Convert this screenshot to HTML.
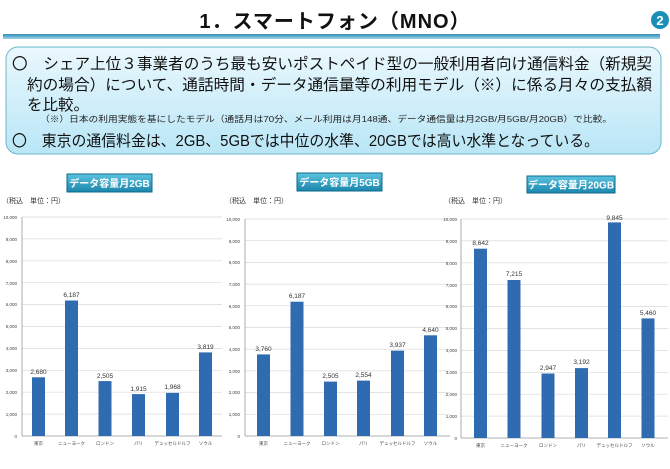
<!DOCTYPE html>
<html><head><meta charset="utf-8"><style>
body{margin:0;width:670px;height:464px;background:#fff;overflow:hidden;font-family:"Liberation Sans","Noto Sans CJK JP",sans-serif}
</style></head><body>
<svg width="670" height="464" viewBox="0 0 670 464" xmlns="http://www.w3.org/2000/svg" font-family="Liberation Sans, Noto Sans CJK JP, sans-serif">
<defs>
<linearGradient id="bx" x1="0" y1="0" x2="0" y2="1"><stop offset="0" stop-color="#eaf8fd"/><stop offset="1" stop-color="#b9e6f6"/></linearGradient>
<linearGradient id="tb" x1="0" y1="0" x2="0" y2="1"><stop offset="0" stop-color="#5cc4e0"/><stop offset="1" stop-color="#1b86ad"/></linearGradient>
<linearGradient id="ln" x1="0" y1="0" x2="0" y2="1"><stop offset="0" stop-color="#2f8fb8"/><stop offset="1" stop-color="#9fd3e6"/></linearGradient>
</defs>
<text x="335" y="28" text-anchor="middle" font-size="20" font-weight="bold" fill="#111" letter-spacing="1">1．スマートフォン（MNO）</text>
<circle cx="660" cy="20" r="9" fill="#1a8fb5"/>
<text x="660" y="25" text-anchor="middle" font-size="13" font-weight="bold" fill="#fff">2</text>
<rect x="3" y="34" width="657" height="5" fill="url(#ln)"/>
<rect x="6" y="47" width="655" height="107" rx="12" fill="url(#bx)" stroke="#6cb5cc" stroke-width="1"/>
<g font-size="15.5" fill="#111">
<text x="12" y="69" textLength="640" lengthAdjust="spacingAndGlyphs">〇　シェア上位３事業者のうち最も安いポストペイド型の一般利用者向け通信料金（新規契</text>
<text x="27" y="90" textLength="625" lengthAdjust="spacingAndGlyphs">約の場合）について、通話時間・データ通信量等の利用モデル（※）に係る月々の支払額</text>
<text x="27" y="110">を比較。</text>
<text x="12" y="146" textLength="587" lengthAdjust="spacingAndGlyphs">〇　東京の通信料金は、2GB、5GBでは中位の水準、20GBでは高い水準となっている。</text>
</g>
<text x="40" y="122" font-size="8.5" fill="#222" textLength="572" lengthAdjust="spacingAndGlyphs">（※）日本の利用実態を基にしたモデル（通話月は70分、メール利用は月148通、データ通信量は月2GB/月5GB/月20GB）で比較。</text>

<!-- chart 1 -->
<g>
<rect x="67" y="174" width="85" height="18" fill="url(#tb)" stroke="#0d6a8a"/>
<text x="109.5" y="187" text-anchor="middle" font-size="10" font-weight="bold" fill="#fff">データ容量月2GB</text>
<text x="2" y="203" font-size="7" fill="#333">（税込　単位：円）</text>
<g stroke="#d9d9d9" stroke-width="0.7">
<line x1="22" x2="222" y1="217" y2="217"/><line x1="22" x2="222" y1="238.9" y2="238.9"/><line x1="22" x2="222" y1="260.8" y2="260.8"/><line x1="22" x2="222" y1="282.7" y2="282.7"/><line x1="22" x2="222" y1="304.6" y2="304.6"/><line x1="22" x2="222" y1="326.5" y2="326.5"/><line x1="22" x2="222" y1="348.4" y2="348.4"/><line x1="22" x2="222" y1="370.3" y2="370.3"/><line x1="22" x2="222" y1="392.2" y2="392.2"/><line x1="22" x2="222" y1="414.1" y2="414.1"/>
</g>
<line x1="22" x2="222" y1="436" y2="436" stroke="#999" stroke-width="0.8"/>
<line x1="22" x2="22" y1="217" y2="436" stroke="#999" stroke-width="0.8"/>
<g font-size="4.5" fill="#444" text-anchor="end">
<text x="17" y="219">10,000</text><text x="17" y="241">9,000</text><text x="17" y="263">8,000</text><text x="17" y="285">7,000</text><text x="17" y="306">6,000</text><text x="17" y="328">5,000</text><text x="17" y="350">4,000</text><text x="17" y="372">3,000</text><text x="17" y="394">2,000</text><text x="17" y="416">1,000</text><text x="17" y="438">0</text>
</g>
<g fill="#2e6bb0">
<rect x="32" y="377.3" width="13" height="58.7"/><rect x="65" y="300.5" width="13" height="135.5"/><rect x="98.5" y="381.1" width="13" height="54.9"/><rect x="132" y="394.1" width="13" height="41.9"/><rect x="166" y="392.9" width="13" height="43.1"/><rect x="199" y="352.4" width="13" height="83.6"/>
</g>
<g font-size="6.5" fill="#333" text-anchor="middle">
<text x="38.5" y="374">2,680</text><text x="71.5" y="297">6,187</text><text x="105" y="378">2,505</text><text x="138.5" y="391">1,915</text><text x="172.5" y="389">1,968</text><text x="205.5" y="349">3,819</text>
</g>
<g font-size="4.5" fill="#444" text-anchor="middle">
<text x="38.5" y="445">東京</text><text x="71.5" y="445">ニューヨーク</text><text x="105" y="445">ロンドン</text><text x="138.5" y="445">パリ</text><text x="172.5" y="445">デュッセルドルフ</text><text x="205.5" y="445">ソウル</text>
</g>
</g>

<!-- chart 2 -->
<g>
<rect x="297" y="173" width="85" height="18" fill="url(#tb)" stroke="#0d6a8a"/>
<text x="339.5" y="186" text-anchor="middle" font-size="10" font-weight="bold" fill="#fff">データ容量月5GB</text>
<text x="225" y="203" font-size="7" fill="#333">（税込　単位：円）</text>
<g stroke="#d9d9d9" stroke-width="0.7">
<line x1="245" x2="450" y1="219" y2="219"/><line x1="245" x2="450" y1="240.7" y2="240.7"/><line x1="245" x2="450" y1="262.4" y2="262.4"/><line x1="245" x2="450" y1="284.1" y2="284.1"/><line x1="245" x2="450" y1="305.8" y2="305.8"/><line x1="245" x2="450" y1="327.5" y2="327.5"/><line x1="245" x2="450" y1="349.2" y2="349.2"/><line x1="245" x2="450" y1="370.9" y2="370.9"/><line x1="245" x2="450" y1="392.6" y2="392.6"/><line x1="245" x2="450" y1="414.3" y2="414.3"/>
</g>
<line x1="245" x2="450" y1="436" y2="436" stroke="#999" stroke-width="0.8"/>
<line x1="245" x2="245" y1="219" y2="436" stroke="#999" stroke-width="0.8"/>
<g font-size="4.5" fill="#444" text-anchor="end">
<text x="240" y="221">10,000</text><text x="240" y="243">9,000</text><text x="240" y="264">8,000</text><text x="240" y="286">7,000</text><text x="240" y="308">6,000</text><text x="240" y="329">5,000</text><text x="240" y="351">4,000</text><text x="240" y="373">3,000</text><text x="240" y="394">2,000</text><text x="240" y="416">1,000</text><text x="240" y="438">0</text>
</g>
<g fill="#2e6bb0">
<rect x="257" y="354.4" width="13" height="81.6"/><rect x="290.5" y="301.7" width="13" height="134.3"/><rect x="324" y="381.6" width="13" height="54.4"/><rect x="357" y="380.6" width="13" height="55.4"/><rect x="391" y="350.6" width="13" height="85.4"/><rect x="424" y="335.3" width="13" height="100.7"/>
</g>
<g font-size="6.5" fill="#333" text-anchor="middle">
<text x="263.5" y="351">3,760</text><text x="297" y="298">6,187</text><text x="330.5" y="378">2,505</text><text x="363.5" y="377">2,554</text><text x="397.5" y="347">3,937</text><text x="430.5" y="332">4,640</text>
</g>
<g font-size="4.5" fill="#444" text-anchor="middle">
<text x="263.5" y="445">東京</text><text x="297" y="445">ニューヨーク</text><text x="330.5" y="445">ロンドン</text><text x="363.5" y="445">パリ</text><text x="397.5" y="445">デュッセルドルフ</text><text x="430.5" y="445">ソウル</text>
</g>
</g>

<!-- chart 3 -->
<g>
<rect x="527" y="176" width="88" height="17" fill="url(#tb)" stroke="#0d6a8a"/>
<text x="571" y="188.5" text-anchor="middle" font-size="10" font-weight="bold" fill="#fff">データ容量月20GB</text>
<text x="444" y="203" font-size="7" fill="#333">（税込　単位：円）</text>
<g stroke="#d9d9d9" stroke-width="0.7">
<line x1="461" x2="668" y1="219" y2="219"/><line x1="461" x2="668" y1="240.9" y2="240.9"/><line x1="461" x2="668" y1="262.8" y2="262.8"/><line x1="461" x2="668" y1="284.7" y2="284.7"/><line x1="461" x2="668" y1="306.6" y2="306.6"/><line x1="461" x2="668" y1="328.5" y2="328.5"/><line x1="461" x2="668" y1="350.4" y2="350.4"/><line x1="461" x2="668" y1="372.3" y2="372.3"/><line x1="461" x2="668" y1="394.2" y2="394.2"/><line x1="461" x2="668" y1="416.1" y2="416.1"/>
</g>
<line x1="461" x2="668" y1="438" y2="438" stroke="#999" stroke-width="0.8"/>
<line x1="461" x2="461" y1="219" y2="438" stroke="#999" stroke-width="0.8"/>
<g font-size="4.5" fill="#444" text-anchor="end">
<text x="457" y="221">10,000</text><text x="457" y="243">9,000</text><text x="457" y="265">8,000</text><text x="457" y="287">7,000</text><text x="457" y="308">6,000</text><text x="457" y="330">5,000</text><text x="457" y="352">4,000</text><text x="457" y="374">3,000</text><text x="457" y="396">2,000</text><text x="457" y="418">1,000</text><text x="457" y="440">0</text>
</g>
<g fill="#2e6bb0">
<rect x="474" y="248.7" width="13" height="189.3"/><rect x="507.5" y="280" width="13" height="158"/><rect x="541.5" y="373.5" width="13" height="64.5"/><rect x="575" y="368.1" width="13" height="69.9"/><rect x="608" y="222.4" width="13" height="215.6"/><rect x="641.5" y="318.4" width="13" height="119.6"/>
</g>
<g font-size="6.5" fill="#333" text-anchor="middle">
<text x="480.5" y="245">8,642</text><text x="514" y="276">7,215</text><text x="548" y="370">2,947</text><text x="581.5" y="364">3,192</text><text x="614.5" y="220">9,845</text><text x="648" y="315">5,460</text>
</g>
<g font-size="4.5" fill="#444" text-anchor="middle">
<text x="480.5" y="447">東京</text><text x="514" y="447">ニューヨーク</text><text x="548" y="447">ロンドン</text><text x="581.5" y="447">パリ</text><text x="614.5" y="447">デュッセルドルフ</text><text x="648" y="447">ソウル</text>
</g>
</g>
</svg>
</body></html>
